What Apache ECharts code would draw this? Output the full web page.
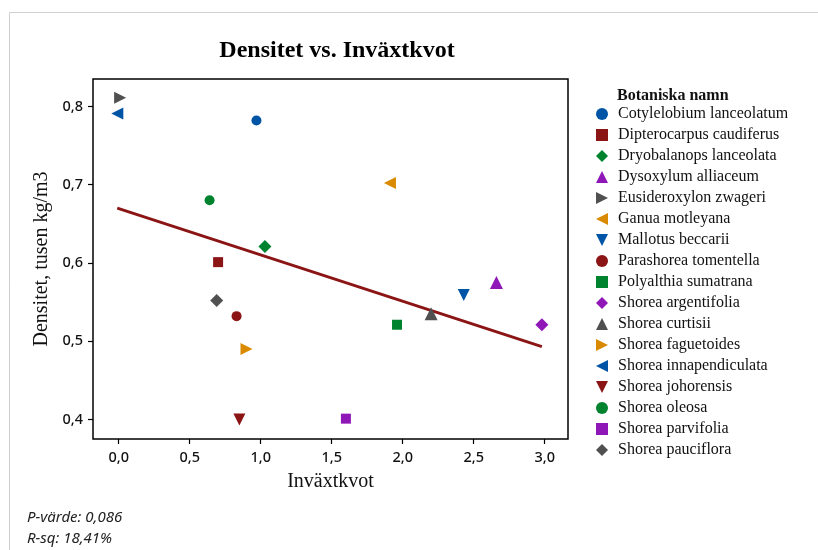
<!DOCTYPE html>
<html>
<head>
<meta charset="utf-8">
<script src="https://cdn.jsdelivr.net/npm/echarts@6/dist/echarts.min.js"></script>
<style>
html, body { margin: 0; padding: 0; background: #fff; }
#main { width: 818px; height: 550px; }
</style>
</head>
<body>
<div id="main"></div>
<script>
// arter (legendens ordning)
var species = ['Cotylelobium lanceolatum', 'Dipterocarpus caudiferus', 'Dryobalanops lanceolata',
  'Dysoxylum alliaceum', 'Eusideroxylon zwageri', 'Ganua motleyana', 'Mallotus beccarii',
  'Parashorea tomentella', 'Polyalthia sumatrana', 'Shorea argentifolia', 'Shorea curtisii',
  'Shorea faguetoides', 'Shorea innapendiculata', 'Shorea johorensis', 'Shorea oleosa',
  'Shorea parvifolia', 'Shorea pauciflora'];
// inväxtkvot (x) och densitet (y)
var ratio = [0.97, 0.70, 1.03, 2.66, 0.01, 1.91, 2.43, 0.83, 1.96, 2.98, 2.20, 0.90, -0.01, 0.85, 0.64, 1.60, 0.69];
var density = [0.782, 0.601, 0.621, 0.575, 0.811, 0.702, 0.559, 0.532, 0.521, 0.521, 0.535, 0.490, 0.791, 0.400, 0.680, 0.401, 0.552];
// regressionslinje, ändpunkter
var fitX = [-0.01, 2.98];
var fitY = [0.670, 0.493];
var xTicks = [0, 0.5, 1, 1.5, 2, 2.5, 3];
var yTicks = [0.4, 0.5, 0.6, 0.7, 0.8];

var BLUE = '#0054a6', RED = '#8b1414', GREEN = '#00832f', PURPLE = '#8f17b8', GREY = '#505050', ORANGE = '#d98a00';
var colors = [BLUE, RED, GREEN, PURPLE, GREY, ORANGE, BLUE, RED, GREEN, PURPLE, GREY, ORANGE, BLUE, RED, GREEN, PURPLE, GREY];
var triR = 'path://M0,0L10,5L0,10Z';
var triL = 'path://M10,0L0,5L10,10Z';
var triD = 'path://M0,0L10,0L5,10Z';
var symbols = ['circle', 'rect', 'diamond', 'triangle', triR, triL, triD,
  'circle', 'rect', 'diamond', 'triangle', triR, triL, triD, 'circle', 'rect', 'diamond'];
var sizes = { 'circle': 10, 'rect': 10, 'diamond': 13, 'triangle': 13 };

var myChart = echarts.init(document.getElementById('main'));

function fmt(v) { return v.toFixed(1).replace('.', ','); }

var seriesData = [];
for (var i = 0; i < species.length; i++) {
  seriesData.push({
    name: species[i],
    type: 'scatter',
    data: [[ratio[i], density[i]]],
    symbol: symbols[i],
    symbolSize: sizes[symbols[i]] || 12,
    itemStyle: { color: colors[i], opacity: 1 },
    z: 3
  });
}
seriesData.push({
  name: 'fit',
  type: 'line',
  data: [[fitX[0], fitY[0]], [fitX[1], fitY[1]]],
  symbol: 'none',
  lineStyle: { color: '#8b1414', width: 2.8 },
  z: 2
});

var tickFont = { fontFamily: 'Noto Sans', fontSize: 14.5, fontWeight: 500, color: '#111' };

var option = {
  animation: false,
  title: {
    text: 'Densitet vs. Inväxtkvot',
    left: 332, top: 34, textAlign: 'center',
    textStyle: { fontFamily: 'Liberation Serif', fontSize: 24, fontWeight: 'bold', color: '#000' }
  },
  grid: {
    left: 93, top: 79, right: 250, bottom: 111,
    show: true, borderColor: '#000', borderWidth: 1.5, backgroundColor: 'transparent'
  },
  legend: {
    orient: 'vertical',
    left: 596, top: 103.5,
    padding: 0,
    itemGap: 0,
    itemWidth: 12, itemHeight: 12,
    data: species,
    selectedMode: false,
    textStyle: { fontFamily: 'Liberation Serif', fontSize: 16, color: '#111', lineHeight: 21, padding: [0, 0, 0, 5] }
  },
  xAxis: {
    type: 'value',
    min: -0.181, max: 3.164,
    name: 'Inväxtkvot',
    nameLocation: 'middle',
    nameGap: 33,
    nameTextStyle: { fontFamily: 'Liberation Serif', fontSize: 20, color: '#111' },
    axisLine: { show: false, onZero: false },
    axisTick: { show: true, inside: false, length: 5, customValues: xTicks, lineStyle: { color: '#000', width: 1.2 } },
    axisLabel: Object.assign({ customValues: xTicks, margin: 11, formatter: fmt }, tickFont),
    splitLine: { show: false }
  },
  yAxis: {
    type: 'value',
    min: 0.375, max: 0.835,
    name: 'Densitet, tusen kg/m3',
    nameLocation: 'middle',
    nameGap: 39,
    nameTextStyle: { fontFamily: 'Liberation Serif', fontSize: 20, color: '#111' },
    axisLine: { show: false, onZero: false },
    axisTick: { show: true, inside: false, length: 5, customValues: yTicks, lineStyle: { color: '#000', width: 1.2 } },
    axisLabel: Object.assign({ customValues: yTicks, margin: 10, formatter: fmt }, tickFont),
    splitLine: { show: false }
  },
  graphic: [
    { type: 'rect', shape: { x: 9.5, y: 12.5, width: 830, height: 560 },
      style: { fill: 'none', stroke: '#d0d0d0', lineWidth: 1 }, silent: true },
    { type: 'text', left: 617, top: 88,
      style: { text: 'Botaniska namn', font: 'bold 16px "Liberation Serif"', fill: '#111' } },
    { type: 'text', left: 27, top: 510,
      style: { text: 'P-värde: 0,086', font: 'italic 15px "Noto Sans"', fill: '#222' } },
    { type: 'text', left: 27, top: 531,
      style: { text: 'R-sq: 18,41%', font: 'italic 15px "Noto Sans"', fill: '#222' } }
  ],
  series: seriesData
};

myChart.setOption(option);
</script>
</body>
</html>
